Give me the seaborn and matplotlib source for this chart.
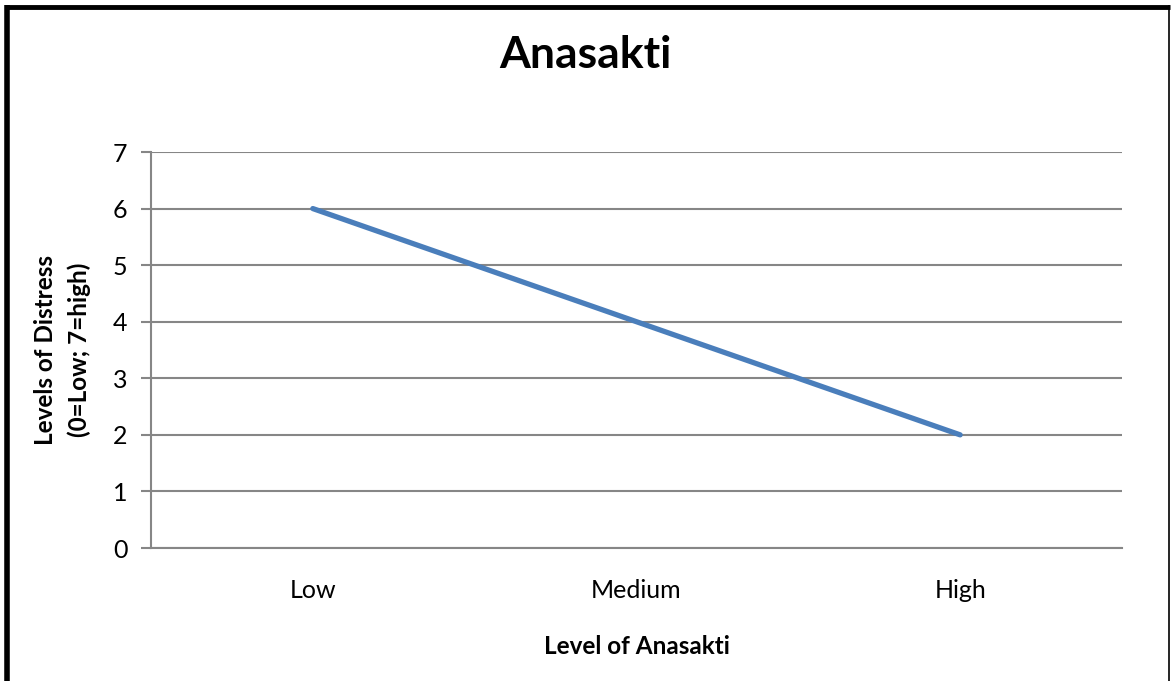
import matplotlib
matplotlib.use('Agg')
import pandas as pd
import seaborn as sns
import matplotlib.pyplot as plt
from matplotlib.lines import Line2D

# data
levels = ['Low', 'Medium', 'High']
distress = [6, 4, 2]
y_ticks = [0, 1, 2, 3, 4, 5, 6, 7]

line_color = '#4a7ebb'
grid_color = '#868686'

sns.set_style('white')
plt.rcParams['font.family'] = ['Lato', 'DejaVu Sans']
plt.rcParams['text.color'] = 'black'
plt.rcParams['axes.labelcolor'] = 'black'
plt.rcParams['xtick.color'] = 'black'
plt.rcParams['ytick.color'] = 'black'

df = pd.DataFrame({'Level': levels, 'Distress': distress})

fig = plt.figure(figsize=(11.71, 6.81), dpi=100)
ax = fig.add_axes([151 / 1171, 1 - 548 / 681, (1122 - 151) / 1171, (548 - 152) / 681])

sns.lineplot(data=df, x='Level', y='Distress', color=line_color, linewidth=3.8,
             sort=False, ax=ax, zorder=3, solid_capstyle='round')

ax.set_xlim(-0.5, 2.5)
ax.set_ylim(0, 7)
ax.set_yticks(y_ticks)
ax.yaxis.grid(True, color=grid_color, linewidth=1.5, zorder=0)
ax.xaxis.grid(False)

for s in ['top', 'right']:
    ax.spines[s].set_visible(False)
for s in ['left', 'bottom']:
    ax.spines[s].set_color(grid_color)
    ax.spines[s].set_linewidth(1.5)

ax.tick_params(axis='y', direction='out', length=7, width=1.5, color=grid_color,
               labelcolor='black', labelsize=18, pad=10, left=True)
ax.tick_params(axis='x', length=0, labelsize=18, labelcolor='black', pad=22)

ax.set_xlabel('Level of Anasakti', fontsize=17.5, fontweight='bold', labelpad=24)
ax.set_ylabel('Levels of Distress\n(0=Low; 7=high)', fontsize=17.5, fontweight='bold',
              labelpad=16, linespacing=1.5)
fig.suptitle('Anasakti', fontsize=32, fontweight='bold', y=1 - 55 / 681, va='center')

# border like the original chart frame
fig.add_artist(Line2D([6.5 / 1171, 6.5 / 1171], [0, 1 - 5 / 681], transform=fig.transFigure,
                      color='black', linewidth=4, solid_capstyle='butt'))
fig.add_artist(Line2D([4.5 / 1171, 1169.5 / 1171], [1 - 6.5 / 681, 1 - 6.5 / 681],
                      transform=fig.transFigure, color='black', linewidth=3.5, solid_capstyle='butt'))
fig.add_artist(Line2D([1169 / 1171, 1169 / 1171], [0, 1 - 5 / 681], transform=fig.transFigure,
                      color='black', linewidth=1.2, solid_capstyle='butt'))

fig.savefig('out.png', dpi=100, facecolor='white')
